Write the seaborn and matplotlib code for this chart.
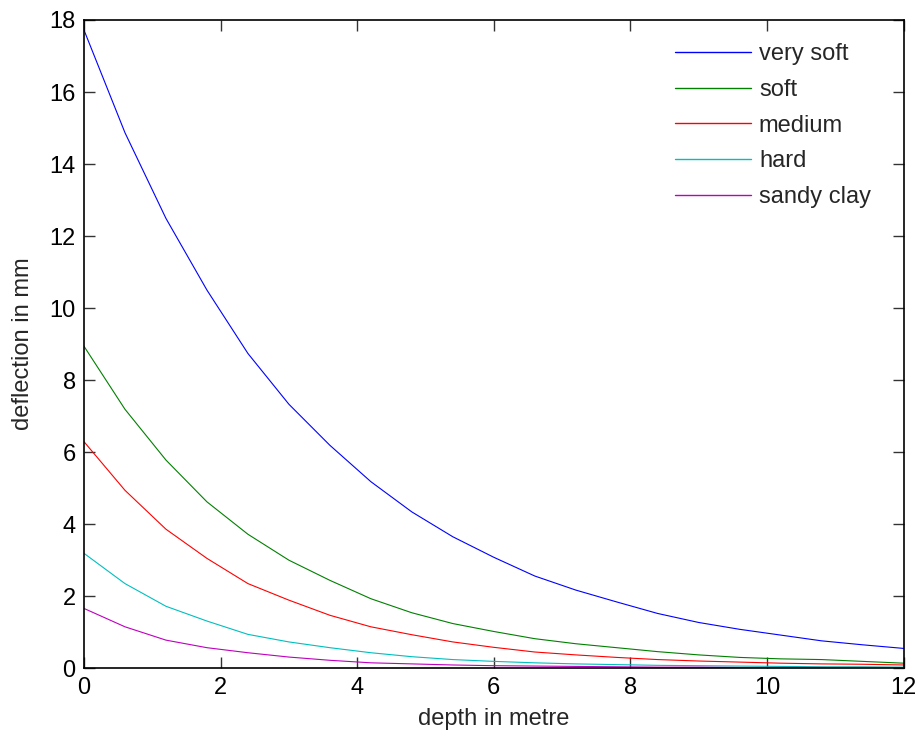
import numpy as np
import pandas as pd
import matplotlib
matplotlib.use("Agg")
import matplotlib.pyplot as plt
import seaborn as sns

# depth points (m)
depth = [0.0, 0.6, 1.2, 1.8, 2.4, 3.0, 3.6, 4.2, 4.8, 5.4, 6.0,
         6.6, 7.2, 7.8, 8.4, 9.0, 9.6, 10.2, 10.8, 11.4, 12.0]

# deflection (mm)
very_soft = [17.72, 14.87, 12.49, 10.50, 8.74, 7.33, 6.19, 5.18, 4.34, 3.65, 3.08,
             2.56, 2.17, 1.84, 1.52, 1.27, 1.08, 0.92, 0.76, 0.65, 0.55]
soft = [8.94, 7.19, 5.78, 4.62, 3.72, 3.00, 2.44, 1.93, 1.54, 1.24, 1.02,
        0.82, 0.68, 0.57, 0.46, 0.37, 0.30, 0.26, 0.24, 0.19, 0.14]
medium = [6.29, 4.94, 3.86, 3.05, 2.35, 1.89, 1.47, 1.15, 0.93, 0.73, 0.58,
          0.45, 0.37, 0.30, 0.24, 0.20, 0.17, 0.14, 0.12, 0.11, 0.09]
hard = [3.19, 2.35, 1.72, 1.31, 0.94, 0.73, 0.57, 0.43, 0.32, 0.24, 0.19,
        0.15, 0.12, 0.10, 0.08, 0.07, 0.06, 0.05, 0.04, 0.04, 0.03]
sandy_clay = [1.66, 1.15, 0.78, 0.57, 0.43, 0.31, 0.22, 0.15, 0.12, 0.09, 0.07,
              0.06, 0.05, 0.04, 0.03, 0.03, 0.02, 0.02, 0.02, 0.01, 0.01]

soil_names = ["very soft", "soft", "medium", "hard", "sandy clay"]
soil_colors = ["#0000ff", "#008000", "#ff0000", "#00bfbf", "#bf00bf"]

series = [very_soft, soft, medium, hard, sandy_clay]
df = pd.concat(
    [pd.DataFrame({"depth": depth, "deflection": vals, "soil": name})
     for name, vals in zip(soil_names, series)],
    ignore_index=True,
)

sns.set_style("ticks")
plt.rcParams["font.family"] = ["Liberation Sans", "DejaVu Sans"]

FS = 17

fig = plt.figure(figsize=(9.23, 7.40), dpi=100)
ax = fig.add_axes([0.091, 0.097, 0.888, 0.876])

sns.lineplot(
    data=df, x="depth", y="deflection", hue="soil",
    hue_order=soil_names, palette=soil_colors,
    linewidth=0.8, ax=ax, sort=False, estimator=None,
)

ax.set_xlim(0, 12)
ax.set_ylim(0, 18)
ax.set_xticks(np.arange(0, 13, 2))
ax.set_yticks(np.arange(0, 19, 2))
ax.tick_params(direction="in", length=8, width=1, colors="#333333",
               labelcolor="black", labelsize=FS, top=True, right=True, pad=6)
for side in ax.spines.values():
    side.set_linewidth(1.2)
    side.set_color("black")

ax.set_xlabel("depth in metre", fontsize=FS, labelpad=7)
ax.set_ylabel("deflection in mm", fontsize=FS, labelpad=11)

leg = ax.legend(
    loc="upper right", bbox_to_anchor=(0.986, 0.997), frameon=False,
    fontsize=FS, handlelength=3.2, handletextpad=0.35, labelspacing=0.58,
)
for line in leg.get_lines():
    line.set_linewidth(1.0)

fig.savefig("out.png", dpi=100)
print("Saved out.png")
